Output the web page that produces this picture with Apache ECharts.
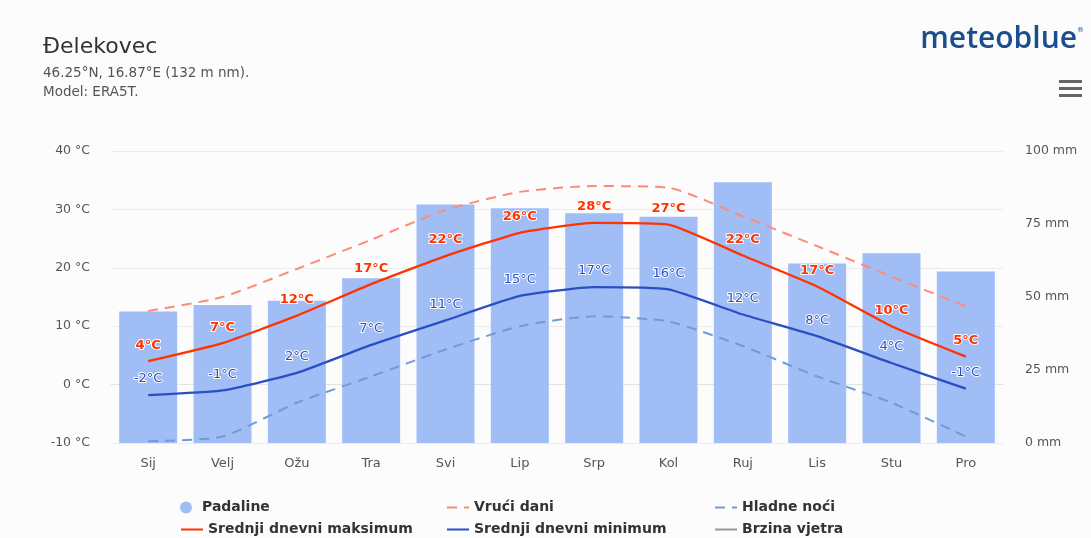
<!DOCTYPE html>
<html><head><meta charset="utf-8">
<script src="https://cdn.jsdelivr.net/npm/echarts@6/dist/echarts.min.js"></script>
<style>html,body{margin:0;padding:0;background:#fcfcfc}#c{width:1091px;height:538px}</style>
</head><body><div id="c"></div>
<script>
const months = ['Sij','Velj','Ožu','Tra','Svi','Lip','Srp','Kol','Ruj','Lis','Stu','Pro'];
const precipitation = [45.0,47.3,48.7,56.4,81.7,80.4,78.7,77.5,89.3,61.5,65.0,58.7];
const hotDays = [12.6,15.0,19.8,24.8,29.9,33.0,34.0,33.7,28.8,23.7,18.5,13.4];
const coldNights = [-9.7,-8.9,-3.1,1.4,6.0,10.0,11.7,10.8,6.6,1.4,-3.1,-8.9];
const meanMax = [4.0,7.1,11.8,17.2,22.0,26.0,27.7,27.4,22.1,16.8,10.0,4.8];
const meanMin = [-1.8,-1.0,2.0,6.8,11.0,15.2,16.7,16.3,12.0,8.3,3.7,-0.7];
const windSpeed = [];
const tempAxis = {min: -10, max: 40, interval: 10, unit: '°C'};
const precAxis = {min: 0, max: 100, interval: 25, unit: 'mm'};

const FONT = 'DejaVu Sans';
const chart = echarts.init(document.getElementById('c'), null, {renderer: 'canvas'});
const labelFmt = p => Math.round(p.value) + '°C';
const legendText = {fontFamily: FONT, fontSize: 14, fontWeight: 'bold', color: '#333', lineHeight: 15};
function legendAt(left, top, item) {
  return {
    left: left, top: top, padding: 0, orient: 'horizontal', itemGap: 0, itemWidth: 22, itemHeight: 12,
    textStyle: legendText, selectedMode: false, data: [item]
  };
}
function lineSeries(name, data, color, dashed, width) {
  return {
    name: name, type: 'line', data: data, symbol: 'circle', symbolSize: 1, showSymbol: !dashed, smooth: dashed ? 0.2 : 0.15,
    lineStyle: {color: color, width: width, type: dashed ? [10, 7] : 'solid'},
    itemStyle: {color: color, opacity: 0}, z: dashed ? 2 : 3
  };
}
const maxS = lineSeries('Srednji dnevni maksimum', meanMax, '#ff3300', false, 2.3);
maxS.label = {show: true, position: 'top', distance: 9, formatter: labelFmt, fontFamily: FONT, fontSize: 13, fontWeight: 'bold',
              color: '#ff3300', textBorderColor: '#fff', textBorderWidth: 2, opacity: 1};
const minS = lineSeries('Srednji dnevni minimum', meanMin, '#2a4fc2', false, 2.3);
minS.label = {show: true, position: 'top', distance: 9, formatter: labelFmt, fontFamily: FONT, fontSize: 13,
              color: '#2a4fc2', textBorderColor: '#fff', textBorderWidth: 2, opacity: 1};

chart.setOption({
  backgroundColor: '#fcfcfc',
  animation: false,
  textStyle: {fontFamily: FONT},
  title: {
    text: 'Đelekovec', left: 38, top: 29, itemGap: 4,
    textStyle: {fontFamily: FONT, fontSize: 22, fontWeight: 'normal', color: '#333', lineHeight: 26},
    subtext: '46.25°N, 16.87°E (132 m nm).\nModel: ERA5T.',
    subtextStyle: {fontFamily: FONT, fontSize: 13.5, color: '#555', lineHeight: 19}
  },
  graphic: [
    {type: 'text', right: 14, top: 24, style: {text: 'meteoblue', font: '600 30px "Open Sans"', fill: '#1b4e8c'}},
    {type: 'text', right: 7, top: 27, style: {text: '®', font: '7px "DejaVu Sans"', fill: '#1b4e8c'}},
    {type: 'rect', left: 1059, top: 80, shape: {width: 23, height: 3}, style: {fill: '#666'}},
    {type: 'rect', left: 1059, top: 87, shape: {width: 23, height: 3}, style: {fill: '#666'}},
    {type: 'rect', left: 1059, top: 94, shape: {width: 23, height: 3}, style: {fill: '#666'}}
  ],
  legend: [
    legendAt(180, 500, {name: 'Padaline', icon: 'circle'}),
    legendAt(180, 522, 'Srednji dnevni maksimum'),
    legendAt(446, 500, 'Vrući dani'),
    legendAt(446, 522, 'Srednji dnevni minimum'),
    legendAt(714, 500, 'Hladne noći'),
    legendAt(714, 522, 'Brzina vjetra')
  ],
  grid: {left: 111, right: 88, top: 151, bottom: 95, containLabel: false},
  xAxis: {
    type: 'category', data: months,
    axisTick: {show: false},
    axisLine: {lineStyle: {color: '#e3e3e3'}},
    axisLabel: {fontFamily: FONT, fontSize: 13, color: '#555', margin: 14}
  },
  yAxis: [
    {type: 'value', min: tempAxis.min, max: tempAxis.max, interval: tempAxis.interval,
     axisLabel: {formatter: '{value} ' + tempAxis.unit, fontFamily: FONT, fontSize: 12.5, color: '#555', margin: 21},
     axisLine: {show: false}, axisTick: {show: false},
     splitLine: {lineStyle: {color: '#ececec'}}},
    {type: 'value', min: precAxis.min, max: precAxis.max, interval: precAxis.interval,
     axisLabel: {formatter: '{value} ' + precAxis.unit, fontFamily: FONT, fontSize: 12.5, color: '#555', margin: 22},
     axisLine: {show: false}, axisTick: {show: false}, splitLine: {show: false}}
  ],
  series: [
    {name: 'Padaline', type: 'bar', yAxisIndex: 1, data: precipitation, barWidth: 58,
     itemStyle: {color: '#a1bdf6'}, z: 1},
    lineSeries('Vrući dani', hotDays, '#ff8a78', true, 2),
    lineSeries('Hladne noći', coldNights, '#6f9bd6', true, 2),
    maxS,
    minS,
    lineSeries('Brzina vjetra', windSpeed, '#999999', false, 2)
  ]
});
</script></body></html>
